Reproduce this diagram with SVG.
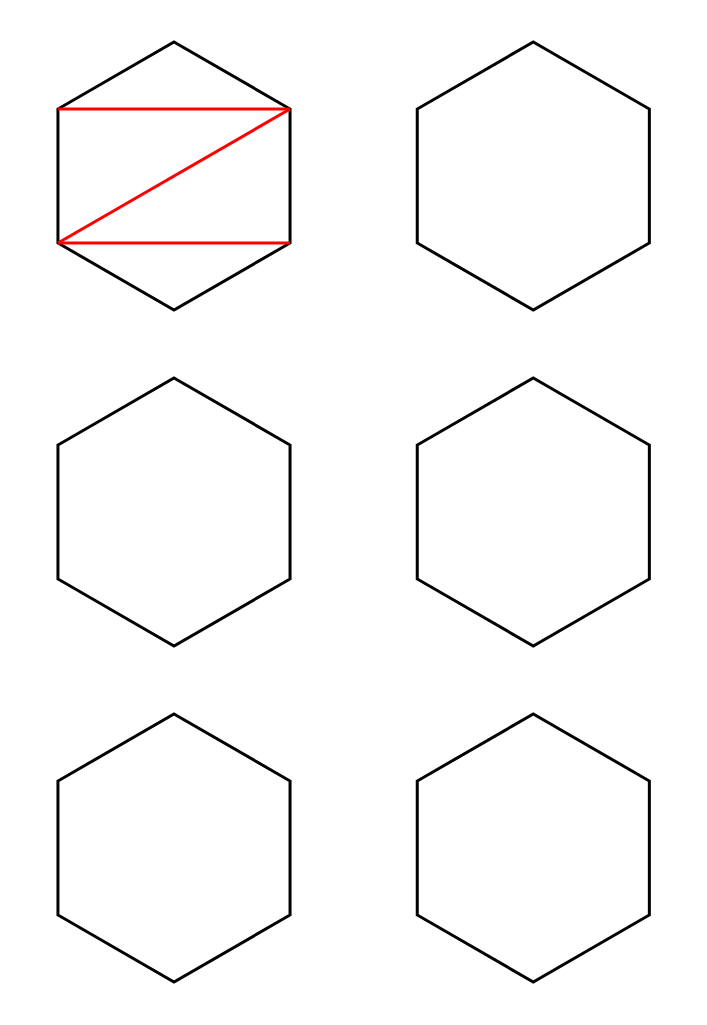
<svg xmlns="http://www.w3.org/2000/svg" width="707" height="1025" viewBox="0 0 707 1025">
<style>
.hex{fill:none;stroke:#000;stroke-width:3;stroke-linejoin:miter}
.red{fill:none;stroke:#ff0000;stroke-width:3;stroke-linecap:butt}
</style>
<defs>
<polygon id="h" points="0,-134 116.05,-67 116.05,67 0,134 -116.05,67 -116.05,-67"/>
</defs>
<rect width="707" height="1025" fill="#fff"/>
<g id="hex1"><use href="#h" class="hex" x="174" y="176"/></g>
<g id="hex2"><use href="#h" class="hex" x="533.3" y="176"/></g>
<g id="hex3"><use href="#h" class="hex" x="174" y="512"/></g>
<g id="hex4"><use href="#h" class="hex" x="533.3" y="512"/></g>
<g id="hex5"><use href="#h" class="hex" x="174" y="848"/></g>
<g id="hex6"><use href="#h" class="hex" x="533.3" y="848"/></g>
<g id="connectors">
<line class="red" x1="57.95" y1="109" x2="290.05" y2="109"/>
<line class="red" x1="290.05" y1="109" x2="57.95" y2="243"/>
<line class="red" x1="57.95" y1="243" x2="290.05" y2="243"/>
</g>
</svg>
